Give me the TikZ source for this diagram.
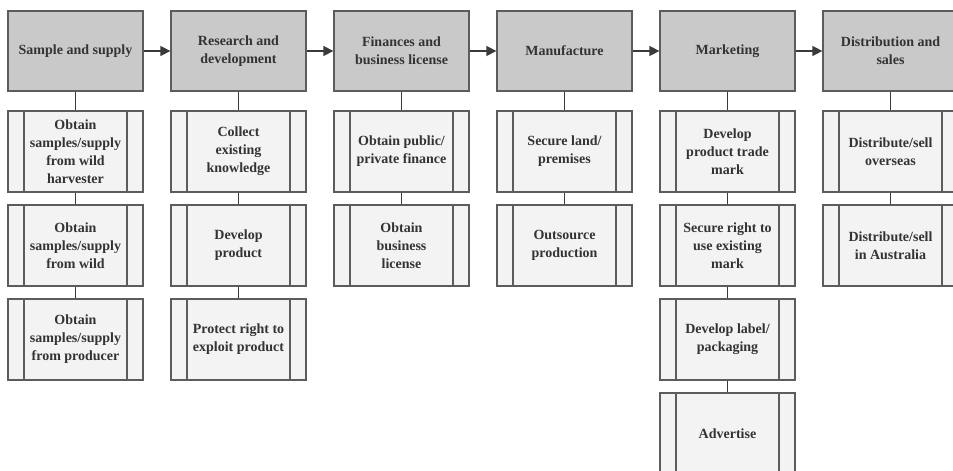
\documentclass[tikz,border=0pt]{standalone}
\usepackage{fontspec}
\setmainfont{Liberation Serif}
\usepackage{xcolor}
\usetikzlibrary{arrows.meta,positioning}
\definecolor{StageFill}{HTML}{C9C9C9}
\definecolor{TaskFill}{HTML}{F3F3F3}
\definecolor{BoxLine}{HTML}{5C5C5C}
\definecolor{LinkLine}{HTML}{3A3A3A}
\definecolor{LabelText}{HTML}{333333}
\tikzset{
  chain stage/.style={
    draw=BoxLine,
    fill=StageFill,
    line width=1.3pt,
    minimum width=135pt,
    minimum height=80pt,
    inner sep=2pt,
    align=center,
    text=LabelText,
    font=\bfseries\fontsize{14}{18}\selectfont
  },
  chain task/.style={
    draw=BoxLine,
    fill=TaskFill,
    line width=1.3pt,
    minimum width=135pt,
    minimum height=81pt,
    inner sep=2pt,
    align=center,
    text=LabelText,
    font=\bfseries\fontsize{14}{18}\selectfont,
    path picture={
      \draw[BoxLine, line width=1.3pt]
        ([xshift=16pt]path picture bounding box.north west) --
        ([xshift=16pt]path picture bounding box.south west)
        ([xshift=-16pt]path picture bounding box.north east) --
        ([xshift=-16pt]path picture bounding box.south east);
    }
  },
  chain arr/.style={-{Triangle[length=10pt, width=10pt]}, line width=1.5pt, LinkLine},
  chain link/.style={line width=1.5pt, LinkLine}
}

\begin{document}
\begin{tikzpicture}[x=1pt, y=1pt]
  \useasboundingbox (0,0) rectangle (953,-471);
  \fill[white] (0,0) rectangle (953,-471);

  % stages
  \node[chain stage] (supply) at (75.5,-51) {Sample and supply};
  \node[chain stage, right=26.7pt of supply] (research) {Research and\\development};
  \node[chain stage, right=26.7pt of research] (finance) {Finances and\\business license};
  \node[chain stage, right=26.7pt of finance] (manuf) {Manufacture};
  \node[chain stage, right=26.7pt of manuf] (market) {Marketing};
  \node[chain stage, right=26.7pt of market] (distrib) {Distribution and\\sales};

  \draw[chain arr] (supply) -- (research);
  \draw[chain arr] (research) -- (finance);
  \draw[chain arr] (finance) -- (manuf);
  \draw[chain arr] (manuf) -- (market);
  \draw[chain arr] (market) -- (distrib);

  % sample and supply
  \node[chain task, below=18.7pt of supply] (supply1)
    {Obtain\\samples/supply\\from wild\\harvester};
  \node[chain task, below=11.7pt of supply1] (supply2)
    {Obtain\\samples/supply\\from wild};
  \node[chain task, below=11.7pt of supply2] (supply3)
    {Obtain\\samples/supply\\from producer};
  \draw[chain link] (supply) -- (supply1);
  \draw[chain link] (supply1) -- (supply2);
  \draw[chain link] (supply2) -- (supply3);

  % research and development
  \node[chain task, below=18.7pt of research] (research1)
    {Collect\\existing\\knowledge};
  \node[chain task, below=11.7pt of research1] (research2)
    {Develop\\product};
  \node[chain task, below=11.7pt of research2] (research3)
    {Protect right to\\exploit product};
  \draw[chain link] (research) -- (research1);
  \draw[chain link] (research1) -- (research2);
  \draw[chain link] (research2) -- (research3);

  % finances
  \node[chain task, below=18.7pt of finance] (finance1)
    {Obtain public/\\private finance};
  \node[chain task, below=11.7pt of finance1] (finance2)
    {Obtain\\business\\license};
  \draw[chain link] (finance) -- (finance1);
  \draw[chain link] (finance1) -- (finance2);

  % manufacture
  \node[chain task, below=18.7pt of manuf] (manuf1)
    {Secure land/\\premises};
  \node[chain task, below=11.7pt of manuf1] (manuf2)
    {Outsource\\production};
  \draw[chain link] (manuf) -- (manuf1);
  \draw[chain link] (manuf1) -- (manuf2);

  % marketing
  \node[chain task, below=18.7pt of market] (market1)
    {Develop\\product trade\\mark};
  \node[chain task, below=11.7pt of market1] (market2)
    {Secure right to\\use existing\\mark};
  \node[chain task, below=11.7pt of market2] (market3)
    {Develop label/\\packaging};
  \node[chain task, below=11.7pt of market3] (market4)
    {Advertise};
  \draw[chain link] (market) -- (market1);
  \draw[chain link] (market1) -- (market2);
  \draw[chain link] (market2) -- (market3);
  \draw[chain link] (market3) -- (market4);

  % distribution
  \node[chain task, below=18.7pt of distrib] (distrib1)
    {Distribute/sell\\overseas};
  \node[chain task, below=11.7pt of distrib1] (distrib2)
    {Distribute/sell\\in Australia};
  \draw[chain link] (distrib) -- (distrib1);
  \draw[chain link] (distrib1) -- (distrib2);
\end{tikzpicture}
\end{document}
